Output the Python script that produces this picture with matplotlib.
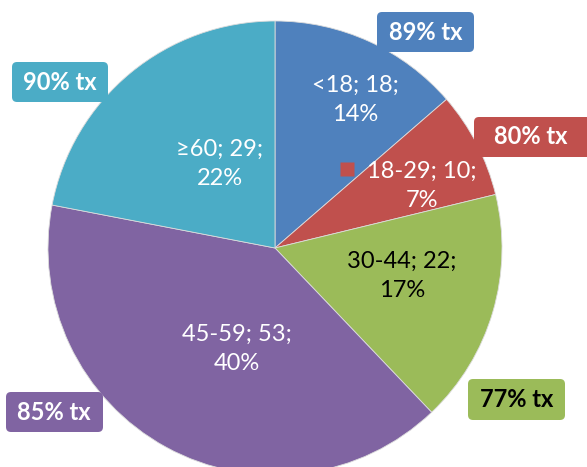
import matplotlib.pyplot as plt
from matplotlib.patches import FancyBboxPatch

plt.rcParams['font.family'] = ['Lato', 'DejaVu Sans']

# age groups, patient counts and share labels
groups = ['<18', '18-29', '30-44', '45-59', '≥60']
counts = [18, 10, 22, 53, 29]
shares = ['14%', '7%', '17%', '40%', '22%']
tx_rate = ['89% tx', '80% tx', '77% tx', '85% tx', '90% tx']

colors = ['#4F81BD', '#C0504D', '#9BBB59', '#8064A2', '#4BACC6']
text_col = ['white', 'white', 'black', 'white', 'white']

W, H = 587, 467
fig = plt.figure(figsize=(W / 100, H / 100), dpi=100)
ax = fig.add_axes([0, 0, 1, 1])

cx, cy, r = 275, H - 248, 227
ax.pie(counts, colors=colors, startangle=90, counterclock=False,
       center=(cx, cy), radius=r,
       wedgeprops=dict(edgecolor='#dcdcdc', linewidth=0.6))
ax.set_xlim(0, W)
ax.set_ylim(0, H)
ax.set_aspect('auto')
ax.axis('off')

# slice labels (pixel positions, y measured from top)
lab_pos = [(355, 100), (422, 186), (402, 276), (237, 349), (220, 164)]
for i, (x, y) in enumerate(lab_pos):
    ax.text(x, H - y, f'{groups[i]}; {counts[i]};\n{shares[i]}',
            ha='center', va='center', color=text_col[i], fontsize=17,
            linespacing=1.5)

# legend key next to the 18-29 label
ax.plot(346.5, H - 169, marker='s', ms=10, color=colors[1], mec='none')

# treatment-rate callouts: box extents (x0, y0, x1, y1) and text centre
boxes = [(377, 12, 474, 52), (474, 117, 592, 157), (468, 379, 565, 420),
         (6, 392, 103, 432), (12, 62, 108, 102)]
text_x = [426, 531, 517, 54, 60]
for i, (x0, y0, x1, y1) in enumerate(boxes):
    ax.add_patch(FancyBboxPatch((x0 + 5, H - y1 + 5), x1 - x0 - 10, y1 - y0 - 10,
                                boxstyle='round,pad=5', fc=colors[i], ec='none',
                                zorder=3))
    ax.text(text_x[i], H - (y0 + y1) / 2, tx_rate[i], ha='center', va='center',
            color=text_col[i], fontsize=17, fontweight='bold', zorder=4)

fig.savefig('out.png', dpi=100)
